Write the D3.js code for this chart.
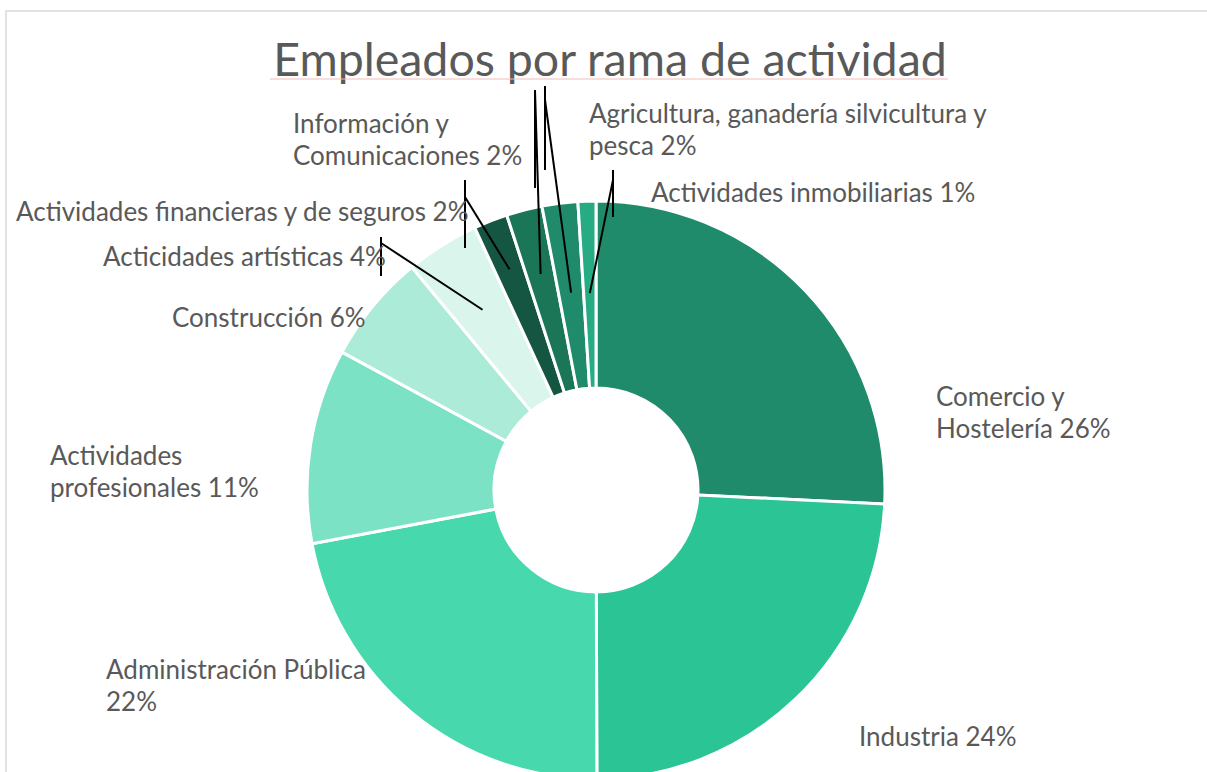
<!DOCTYPE html>
<html lang="es">
<head>
<meta charset="UTF-8">
<title>Empleados por rama de actividad</title>
<script src="https://d3js.org/d3.v7.min.js"></script>
<style>
  body { margin: 0; background: #fff; }
  text { font-family: Lato, "Open Sans", sans-serif; fill: #595959; }
</style>
</head>
<body>
<div class="chart"></div>
<script>
  // data (share of employed people, %, clockwise from 12 o'clock)
  const sectors = ["Comercio y Hostelería", "Industria", "Administración Pública",
    "Actividades profesionales", "Construcción", "Acticidades artísticas",
    "Actividades financieras y de seguros", "Información y Comunicaciones",
    "Agricultura, ganadería silvicultura y pesca", "Actividades inmobiliarias"];
  const shares = [25.8, 24.2, 22.1, 10.9, 6.1, 4.1, 1.9, 2.0, 2.0, 1.0];
  const colors = ["#208b6b", "#2bc494", "#47d8ad", "#7ce2c5", "#abebd8",
    "#d9f5ec", "#155642", "#1a7657", "#208b6b", "#27ab83"];

  const w = 1207, h = 772;
  const cx = 596, cy = 490;
  const outerR = 289, innerR = 102;

  const svg = d3.select(".chart").append("svg")
    .attr("width", w)
    .attr("height", h);

  // chart frame
  svg.append("rect")
    .attr("x", 6).attr("y", 11)
    .attr("width", 1260).attr("height", 800)
    .attr("fill", "none")
    .attr("stroke", "#d9d9d9")
    .attr("stroke-width", 1.5);

  // title
  svg.append("text")
    .attr("x", 610).attr("y", 76)
    .attr("text-anchor", "middle")
    .style("font-size", "46.5px")
    .text("Empleados por rama de actividad");
  svg.append("line")
    .attr("x1", 270).attr("x2", 948)
    .attr("y1", 79).attr("y2", 79)
    .attr("stroke", "#f4bcb8").attr("stroke-width", 1);

  const pie = d3.pie().sort(null).value(d => d);
  const arcs = pie(shares);
  const arc = d3.arc().innerRadius(innerR).outerRadius(outerR);

  const g = svg.append("g").attr("transform", `translate(${cx},${cy})`);
  g.selectAll("path")
    .data(arcs)
    .join("path")
    .attr("d", arc)
    .attr("fill", (d, i) => colors[i])
    .attr("stroke", "#fff")
    .attr("stroke-width", 3);

  // leader lines for the small slices: [slice index, x, y top, y bottom, elbow y, end radius]
  const leaders = [
    [5, 381, 237, 276, 243, 213],
    [6, 465, 180, 248, 197, 237],
    [7, 535, 90, 188, 90, 223],
    [8, 545, 86, 170, 100, 199],
    [9, 613, 170, 217, 180, 197]
  ];
  const mid = d => (d.startAngle + d.endAngle) / 2;
  leaders.forEach(([i, x, y1, y2, ye, r]) => {
    const a = mid(arcs[i]);
    svg.append("line")
      .attr("x1", x).attr("x2", x).attr("y1", y1).attr("y2", y2)
      .attr("stroke", "#000").attr("stroke-width", 2);
    svg.append("line")
      .attr("x1", x).attr("y1", ye)
      .attr("x2", cx + r * Math.sin(a)).attr("y2", cy - r * Math.cos(a))
      .attr("stroke", "#000").attr("stroke-width", 2);
  });

  // data labels: [slice index, x, first baseline, lines]
  const pct = i => Math.round(shares[i]) + "%";
  const labels = [
    [0, 936, 406, ["Comercio y", "Hostelería " + pct(0)]],
    [1, 859, 746, ["Industria " + pct(1)]],
    [2, 106, 679, ["Administración Pública", pct(2)]],
    [3, 50, 465, ["Actividades", "profesionales " + pct(3)]],
    [4, 172, 327, ["Construcción " + pct(4)]],
    [5, 103, 266, ["Acticidades artísticas " + pct(5)]],
    [6, 16, 221, ["Actividades financieras y de seguros " + pct(6)]],
    [7, 293, 133, ["Información y", "Comunicaciones " + pct(7)]],
    [8, 589, 123, ["Agricultura, ganadería silvicultura y", "pesca " + pct(8)]],
    [9, 651, 202, ["Actividades inmobiliarias " + pct(9)]]
  ];
  labels.forEach(([i, x, y, lines]) => {
    const t = svg.append("text")
      .attr("x", x).attr("y", y)
      .style("font-size", "26px");
    lines.forEach((s, k) => {
      t.append("tspan")
        .attr("x", x)
        .attr("dy", k === 0 ? 0 : 32)
        .text(s);
    });
  });
</script>
</body>
</html>
